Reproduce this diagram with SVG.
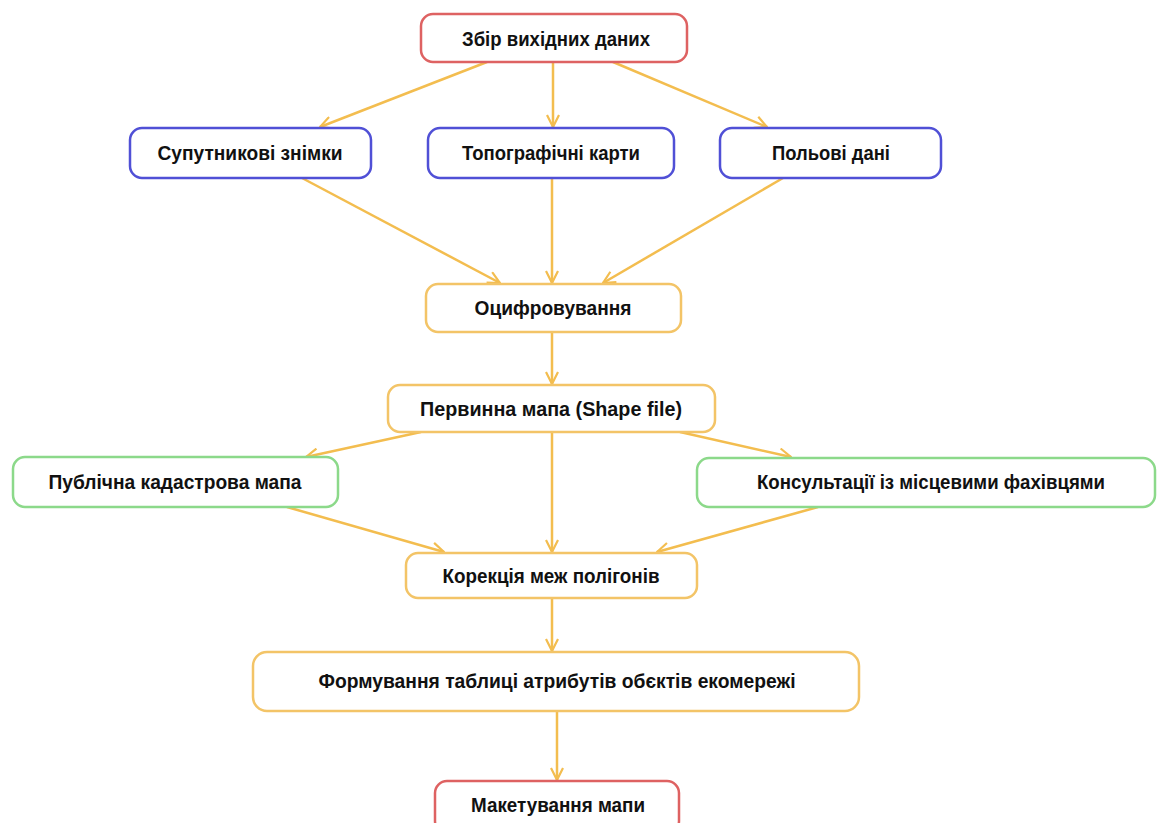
<svg xmlns="http://www.w3.org/2000/svg" width="1157" height="823" viewBox="0 0 1157 823">
<defs>
<style>
.box{fill:#fff;stroke-width:2.5}
.red{stroke:#de6262}
.blue{stroke:#5050d6}
.orange{stroke:#f3c467}
.green{stroke:#8cd98a}
.t{font-family:"Liberation Sans",Arial,sans-serif;font-weight:bold;font-size:20px;fill:#111;text-anchor:middle;dominant-baseline:central}
.c{stroke:#f3bd4f;stroke-width:2.5;fill:none;marker-end:url(#ah)}
</style>
<marker id="ah" viewBox="0 0 14 14" refX="13" refY="7" markerWidth="14" markerHeight="14" markerUnits="userSpaceOnUse" orient="auto">
<path d="M1,1 L13,7 L1,13" fill="none" stroke="#f3bd4f" stroke-width="2.2"/>
</marker>
</defs>
<rect width="1157" height="823" fill="#fff"/>
<g id="connectors">
<line class="c" x1="487" y1="62" x2="320" y2="127"/>
<line class="c" x1="553" y1="62" x2="553" y2="127"/>
<line class="c" x1="613" y1="62" x2="767" y2="127"/>
<line class="c" x1="302" y1="178" x2="500" y2="283"/>
<line class="c" x1="552" y1="178" x2="552" y2="283"/>
<line class="c" x1="783" y1="178" x2="603" y2="283"/>
<line class="c" x1="552" y1="332" x2="552" y2="384"/>
<line class="c" x1="421" y1="432" x2="306" y2="457"/>
<line class="c" x1="552" y1="432" x2="552" y2="552"/>
<line class="c" x1="680" y1="432" x2="791" y2="457"/>
<line class="c" x1="287" y1="507" x2="444" y2="552"/>
<line class="c" x1="818" y1="507" x2="657" y2="552"/>
<line class="c" x1="552" y1="598" x2="552" y2="651"/>
<line class="c" x1="557" y1="711" x2="557" y2="780"/>
</g>
<g id="n1"><rect class="box red" x="421" y="14" width="266" height="48" rx="12"/><text class="t" x="556" y="39" textLength="188" lengthAdjust="spacingAndGlyphs">Збір вихідних даних</text></g>
<g id="n2"><rect class="box blue" x="130" y="128" width="241" height="50" rx="12"/><text class="t" x="250" y="153" textLength="185" lengthAdjust="spacingAndGlyphs">Супутникові знімки</text></g>
<g id="n3"><rect class="box blue" x="428" y="128" width="246" height="50" rx="12"/><text class="t" x="551" y="153" textLength="178" lengthAdjust="spacingAndGlyphs">Топографічні карти</text></g>
<g id="n4"><rect class="box blue" x="720" y="128" width="221" height="50" rx="12"/><text class="t" x="831" y="153" textLength="118" lengthAdjust="spacingAndGlyphs">Польові дані</text></g>
<g id="n5"><rect class="box orange" x="426" y="284" width="255" height="48" rx="12"/><text class="t" x="553" y="308" textLength="157" lengthAdjust="spacingAndGlyphs">Оцифровування</text></g>
<g id="n6"><rect class="box orange" x="388" y="385" width="327" height="47" rx="12"/><text class="t" x="551" y="409" textLength="262" lengthAdjust="spacingAndGlyphs">Первинна мапа (Shape file)</text></g>
<g id="n7"><rect class="box green" x="13" y="457" width="325" height="50" rx="12"/><text class="t" x="175" y="482" textLength="253" lengthAdjust="spacingAndGlyphs">Публічна кадастрова мапа</text></g>
<g id="n8"><rect class="box green" x="697" y="458" width="458" height="49" rx="12"/><text class="t" x="931" y="482" textLength="348" lengthAdjust="spacingAndGlyphs">Консультації із місцевими фахівцями</text></g>
<g id="n9"><rect class="box orange" x="406" y="553" width="291" height="45" rx="12"/><text class="t" x="551" y="576" textLength="217" lengthAdjust="spacingAndGlyphs">Корекція меж полігонів</text></g>
<g id="n10"><rect class="box orange" x="253" y="652" width="606" height="59" rx="14"/><text class="t" x="557" y="681" textLength="477" lengthAdjust="spacingAndGlyphs">Формування таблиці атрибутів обєктів екомережі</text></g>
<g id="n11"><rect class="box red" x="435" y="781" width="244" height="52" rx="12"/><text class="t" x="558" y="805" textLength="174" lengthAdjust="spacingAndGlyphs">Макетування мапи</text></g>
</svg>
